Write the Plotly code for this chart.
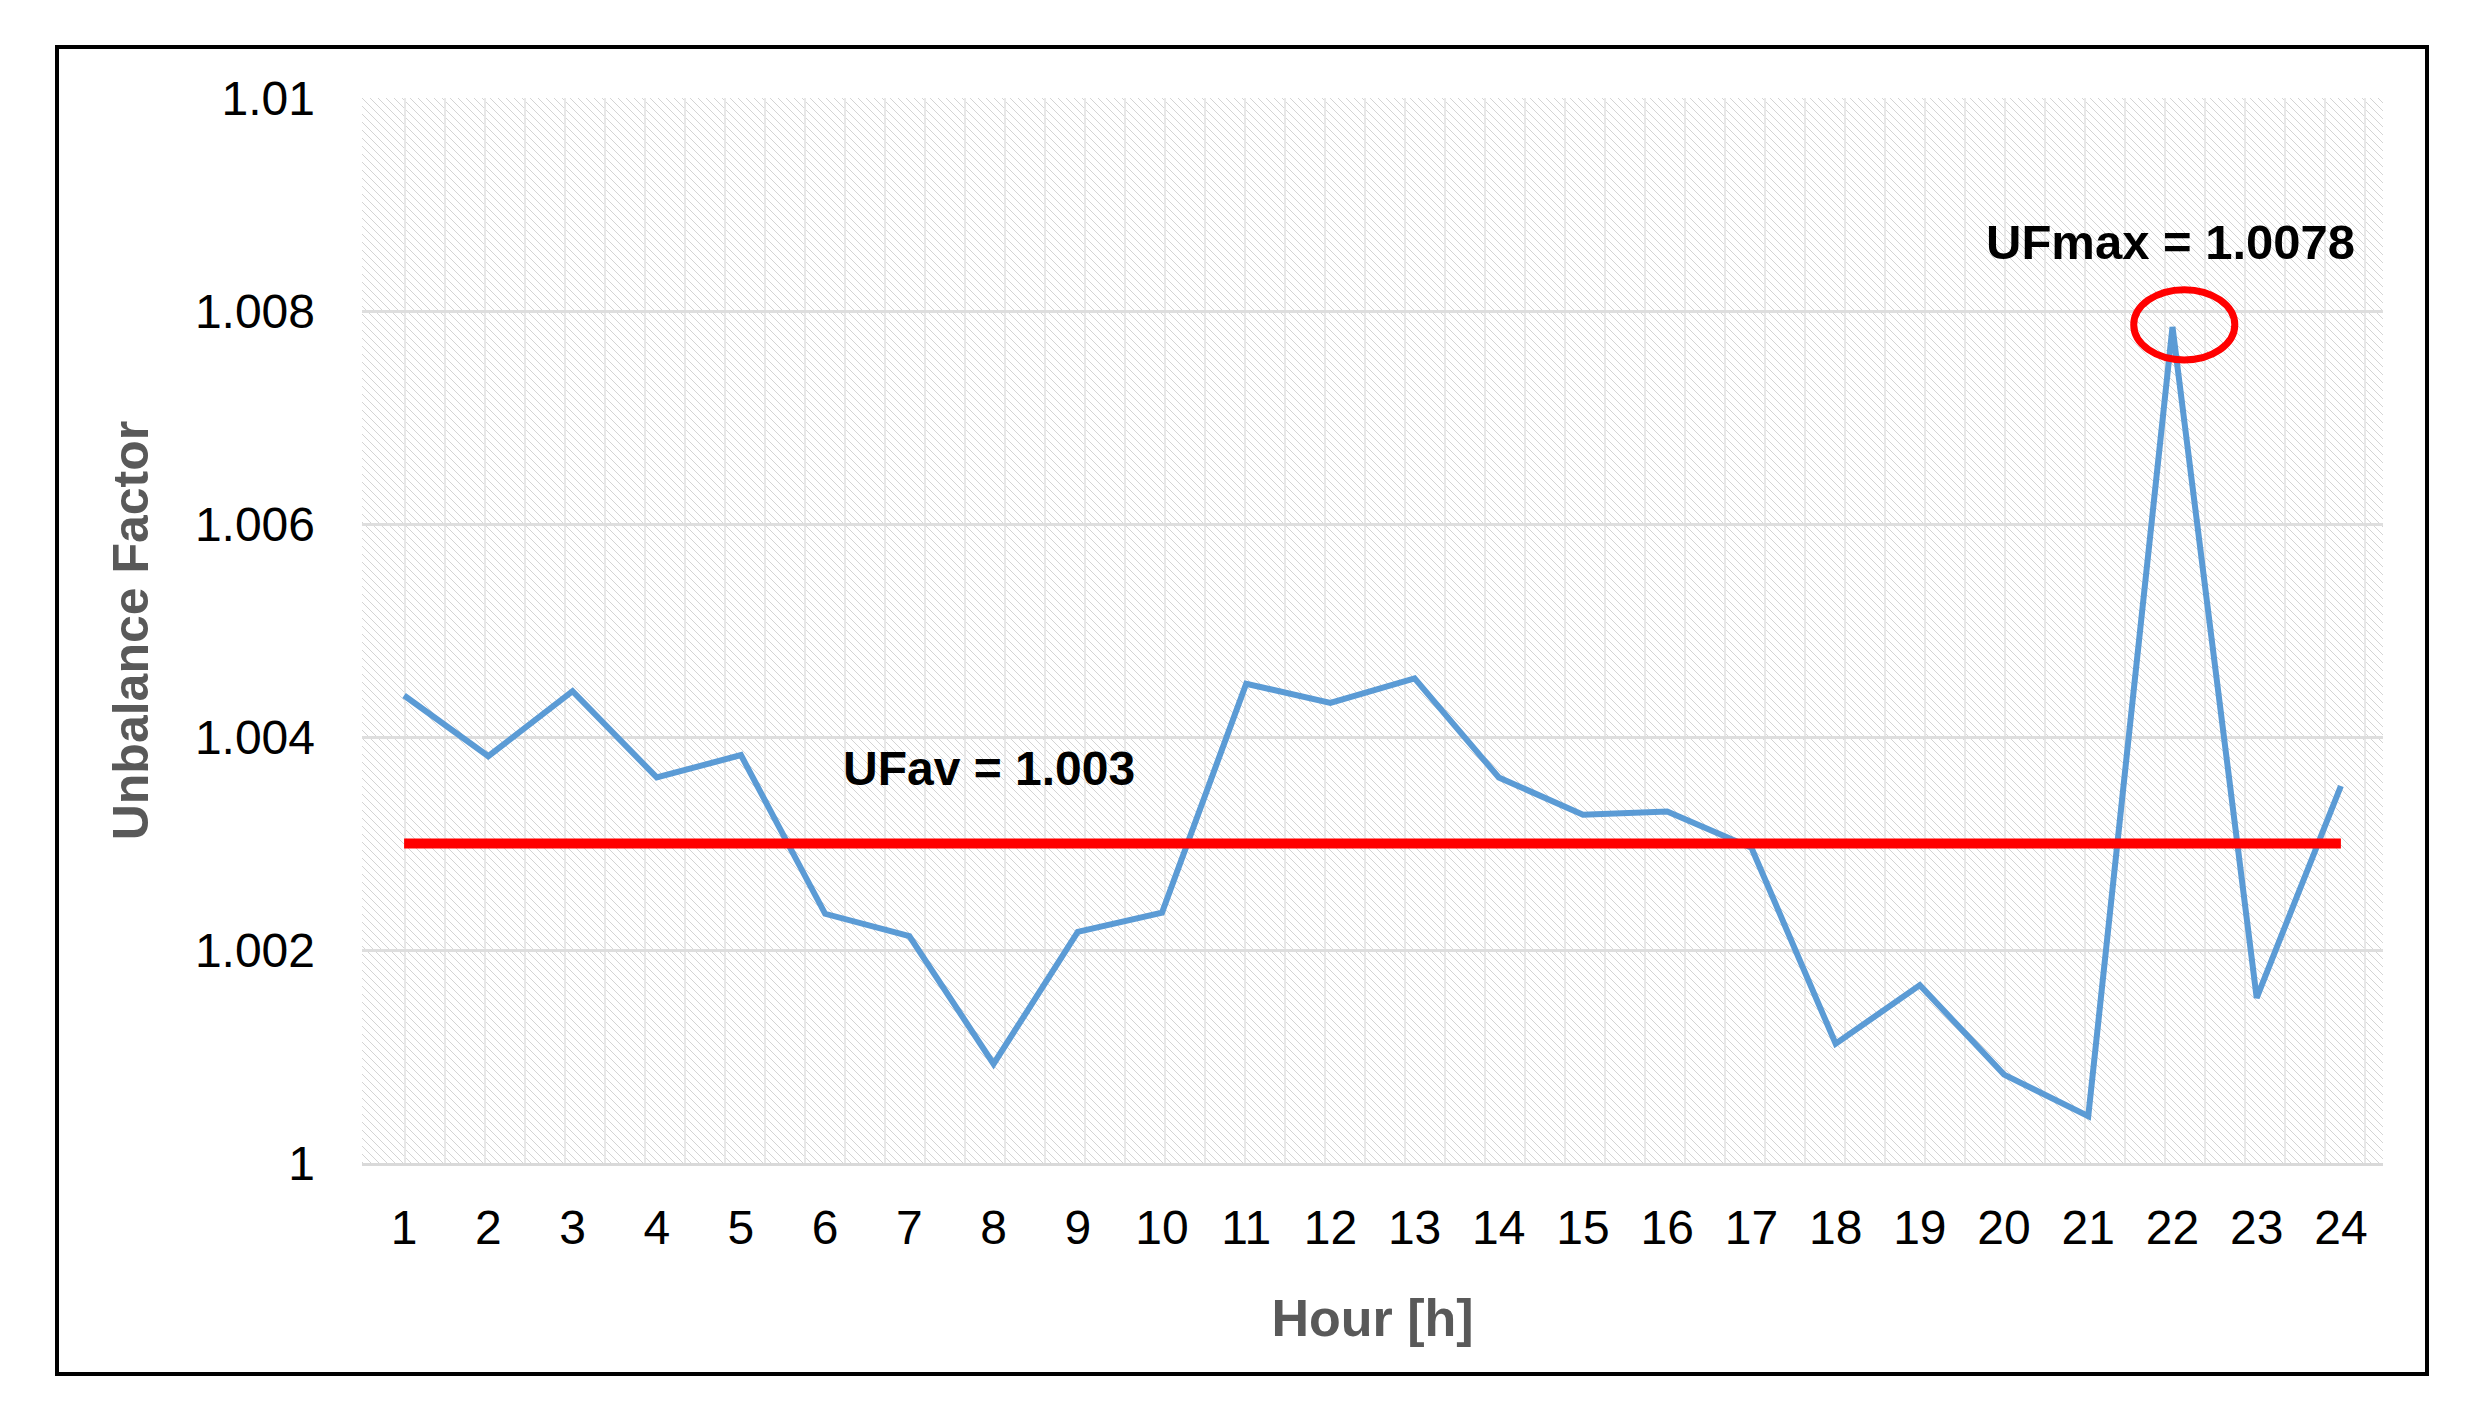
import base64
import plotly.graph_objects as go

# ---- data ----
hours = list(range(1, 25))
unbalance_factor = [1.00439, 1.00382, 1.00443, 1.00362, 1.00383, 1.00234, 1.00213, 1.00093,
                    1.00217, 1.00235, 1.00450, 1.00432, 1.00455, 1.00362, 1.00327, 1.00330,
                    1.00296, 1.00112, 1.00167, 1.00083, 1.00044, 1.00785, 1.00155, 1.00354]
uf_average = 1.003
uf_max = 1.0078
peak_hour = 22
y_tick_vals = [1.0, 1.002, 1.004, 1.006, 1.008, 1.01]
y_tick_text = ["1", "1.002", "1.004", "1.006", "1.008", "1.01"]

# ---- geometry (pixels) ----
W, H = 2471, 1416
PAGE = 8  # default body margin of the html page
ML, MR, MT, MB = 362 - PAGE, 88 + PAGE, 98 - PAGE, 253 + PAGE
PW, PH = W - ML - MR, H - MT - MB

# hatched background (Excel-like pattern fill) as inline SVG
vlines = "".join(
    f'<line x1="{x}" y1="0" x2="{x}" y2="{PH}" stroke="#e8e8e8" stroke-width="2"/>'
    for x in range(43, PW, 40)
)
svg = f'''<svg xmlns="http://www.w3.org/2000/svg" width="{PW}" height="{PH}" viewBox="0 0 {PW} {PH}" preserveAspectRatio="none">
<defs><pattern id="h" patternUnits="userSpaceOnUse" width="8" height="8">
<rect width="8" height="8" fill="#ffffff"/>
<path d="M-2,-2 L10,10 M-2,6 L2,10 M6,-2 L10,2" stroke="#d4d4d4" stroke-width="1"/>
</pattern></defs>
<rect width="{PW}" height="{PH}" fill="url(#h)"/>
{vlines}
</svg>'''
svg_uri = "data:image/svg+xml;base64," + base64.b64encode(svg.encode()).decode()

fig = go.Figure()

fig.add_trace(go.Scatter(
    x=hours, y=unbalance_factor, mode="lines",
    line=dict(color="#5B9BD5", width=6), showlegend=False,
    hoverinfo="x+y",
))
fig.add_trace(go.Scatter(
    x=[hours[0], hours[-1]], y=[uf_average, uf_average], mode="lines",
    line=dict(color="#FF0000", width=10), showlegend=False,
))

fig.add_layout_image(dict(
    source=svg_uri, xref="x domain", yref="y domain", x=0, y=1,
    sizex=1, sizey=1, xanchor="left", yanchor="top",
    sizing="stretch", layer="below",
))

# red ellipse around the maximum
fig.add_shape(type="circle", xref="x", yref="y",
              x0=peak_hour - 0.46, x1=peak_hour + 0.74,
              y0=uf_max - 0.00026, y1=uf_max + 0.00040,
              line=dict(color="#FF0000", width=7))

# outer black frame
fig.add_shape(type="rect", xref="paper", yref="paper",
              x0=(57 - 362) / PW, x1=(2427 - 362) / PW,
              y0=(1163 - 1374) / PH, y1=(1163 - 47) / PH,
              line=dict(color="#000000", width=4), fillcolor="rgba(0,0,0,0)")

fig.add_annotation(x=7.95, y=1.0037, text="<b>UFav = 1.003</b>", showarrow=False,
                   font=dict(family="Liberation Sans", size=48, color="#000000"))
fig.add_annotation(x=21.98, y=1.00865, text=f"<b>UFmax = {uf_max}</b>", showarrow=False,
                   font=dict(family="Liberation Sans", size=49, color="#000000"))

fig.update_layout(
    width=W, height=H,
    margin=dict(l=ML, r=MR, t=MT, b=MB),
    paper_bgcolor="#ffffff", plot_bgcolor="rgba(0,0,0,0)",
    font=dict(family="Liberation Sans", color="#000000"),
    xaxis=dict(
        range=[0.5, 24.5], tickmode="array", tickvals=hours,
        ticktext=[str(h) for h in hours],
        tickfont=dict(size=48, color="#000000"),
        showgrid=False, zeroline=False,
        showline=True, linecolor="#d9d9d9", linewidth=3,
        ticks="", ticklabelstandoff=20,
        title=dict(text="<b>Hour [h]</b>", font=dict(size=52, color="#595959"), standoff=48),
    ),
    yaxis=dict(
        range=[1.0, 1.01], tickmode="array", tickvals=y_tick_vals, ticktext=y_tick_text,
        tickfont=dict(size=48, color="#000000"),
        showgrid=True, gridcolor="#dedede", gridwidth=3,
        zeroline=False, showline=False, ticks="", ticklabelstandoff=46,
        title=dict(text="<b>Unbalance Factor</b>", font=dict(size=50, color="#595959"), standoff=30),
    ),
)

fig.write_html("out.html")
